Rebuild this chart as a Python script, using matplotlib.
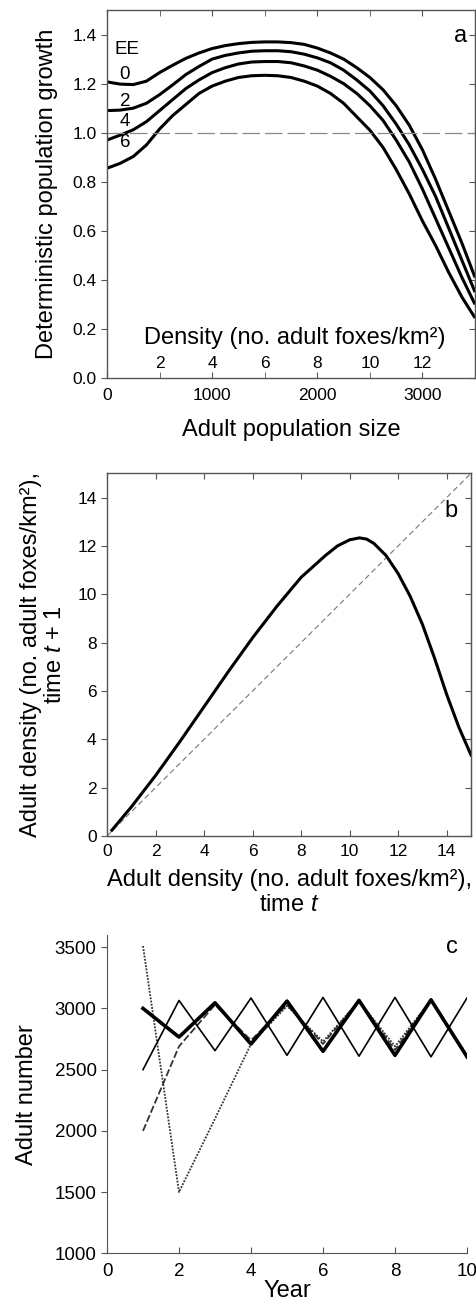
import numpy as np
import matplotlib
matplotlib.use('Agg')
import matplotlib.pyplot as plt

plt.rcParams['font.family'] = ['Liberation Sans', 'DejaVu Sans']
plt.rcParams['mathtext.fontset'] = 'custom'
plt.rcParams['mathtext.rm'] = 'Liberation Sans'
plt.rcParams['mathtext.it'] = 'Liberation Sans:italic'

# panel a: deterministic growth vs adult population size, per EE level
pop = [0, 125, 250, 375, 500, 625, 750, 875, 1000, 1125, 1250, 1375, 1500, 1625, 1750,
       1875, 2000, 2125, 2250, 2375, 2500, 2625, 2750, 2875, 3000, 3125, 3250, 3375, 3500]
ee0 = [1.207, 1.198, 1.196, 1.21, 1.245, 1.275, 1.303, 1.325, 1.343, 1.355, 1.363, 1.368, 1.37, 1.37, 1.367,
       1.36, 1.345, 1.325, 1.30, 1.265, 1.225, 1.175, 1.11, 1.03, 0.93, 0.81, 0.68, 0.55, 0.41]
ee2 = [1.09, 1.092, 1.10, 1.12, 1.155, 1.195, 1.237, 1.27, 1.30, 1.315, 1.325, 1.332, 1.334, 1.334, 1.33,
       1.32, 1.305, 1.285, 1.255, 1.215, 1.17, 1.11, 1.035, 0.95, 0.85, 0.74, 0.61, 0.48, 0.35]
ee4 = [0.97, 0.99, 1.012, 1.045, 1.09, 1.135, 1.18, 1.215, 1.245, 1.265, 1.28, 1.288, 1.29, 1.29, 1.285,
       1.272, 1.255, 1.23, 1.20, 1.16, 1.11, 1.05, 0.97, 0.88, 0.77, 0.65, 0.53, 0.41, 0.30]
ee6 = [0.855, 0.875, 0.903, 0.95, 1.015, 1.07, 1.115, 1.16, 1.19, 1.21, 1.225, 1.232, 1.234, 1.232, 1.225,
       1.21, 1.19, 1.16, 1.12, 1.065, 1.01, 0.94, 0.85, 0.75, 0.64, 0.54, 0.43, 0.33, 0.245]
ee_labels = ['0', '2', '4', '6']
ee_label_y = [1.237, 1.127, 1.046, 0.959]
density_ticks = [2, 4, 6, 8, 10, 12]
km2_per_pop = 250  # adults per density unit

# panel b: density at t+1 vs density at t
dens_t = [0.2, 1, 2, 3, 4, 5, 6, 7, 8, 9, 9.5, 10, 10.4, 10.7, 11, 11.5, 12, 12.5, 13, 13.5, 14, 14.5, 15]
dens_t1 = [0.24, 1.2, 2.5, 3.9, 5.35, 6.8, 8.2, 9.5, 10.7, 11.6, 12.0, 12.25, 12.33, 12.28, 12.1, 11.6,
           10.85, 9.9, 8.75, 7.35, 5.85, 4.5, 3.35]

# panel c: adult number over years from different starts
years = [1, 2, 3, 4, 5, 6, 7, 8, 9, 10]
run_thick = [3000, 2766, 3046, 2709, 3060, 2650, 3066, 2617, 3070, 2605]
run_thin = [2500, 3065, 2655, 3085, 2617, 3090, 2610, 3090, 2605, 3085]
run_dash = [2000, 2690, 3030, 2740, 3030, 2710, 3065, 2660, 3075, 2610]
run_dot = [3510, 1500, 2100, 2710, 3020, 2730, 3060, 2690, 3070, 2620]

spine_col = '#555555'
lab_fs = 17
tick_fs = 12.5

fig = plt.figure(figsize=(4.76, 13.0), dpi=100)


def right_ticks(axis, ticks):
    # inward ticks on the right spine, no labels
    sec = axis.secondary_yaxis('right')
    sec.set_yticks(ticks)
    sec.tick_params(direction='in', length=4, labelright=False, color=spine_col)
    sec.spines['right'].set_color(spine_col)


# ---------- panel a ----------
ax = fig.add_axes([0.2248, 0.7092, 0.998 - 0.2248, 0.9923 - 0.7092])
for ys in (ee0, ee2, ee4, ee6):
    ax.plot(pop, ys, color='black', lw=2.2, solid_capstyle='butt')
ax.axhline(1.0, color='#888888', lw=0.9, dashes=(14, 4))
ax.set_xlim(0, 3500)
ax.set_ylim(0, 1.5)
ax.set_xticks([0, 1000, 2000, 3000])
ax.set_xticks([500, 1500, 2500, 3500], minor=True)
ax.set_yticks(np.arange(0, 1.41, 0.2))
ax.set_yticklabels([f'{v:.1f}' for v in np.arange(0, 1.41, 0.2)])
ax.tick_params(axis='x', which='both', direction='in', length=4, top=True,
               labelsize=tick_fs, pad=7, color=spine_col)
ax.tick_params(axis='y', direction='out', length=4, labelsize=tick_fs, color=spine_col)
for s in ax.spines.values():
    s.set_color(spine_col)
    s.set_linewidth(1.0)
right_ticks(ax, np.arange(0, 1.41, 0.2))
for d in density_ticks:
    ax.text(d * km2_per_pop, 0.06, str(d), ha='center', va='center', fontsize=tick_fs)
ax.text(1790, 0.163, 'Density (no. adult foxes/km²)', ha='center', va='center', fontsize=lab_fs)
ax.text(190, 1.339, 'EE', ha='center', va='center', fontsize=tick_fs + 1)
for lab, yy in zip(ee_labels, ee_label_y):
    ax.text(171, yy, lab, ha='center', va='center', fontsize=tick_fs + 1)
ax.text(3360, 1.395, 'a', ha='center', va='center', fontsize=lab_fs)
ax.set_xlabel('Adult population size', fontsize=lab_fs, labelpad=12)
ax.set_ylabel('Deterministic population growth', fontsize=lab_fs, labelpad=10)

# ---------- panel b ----------
bx = fig.add_axes([0.2248, 0.3569, 0.9895 - 0.2248, 0.6359 - 0.3569])
bx.plot([0, 15], [0, 15], color='#777777', lw=0.8, dashes=(5, 3))
bx.plot(dens_t, dens_t1, color='black', lw=2.2)
bx.set_xlim(0, 15)
bx.set_ylim(0, 15)
bx.set_xticks(range(0, 15, 2))
bx.set_yticks(range(0, 15, 2))
bx.tick_params(axis='x', direction='in', length=4, top=True, labelsize=tick_fs, pad=6,
               color=spine_col)
bx.tick_params(axis='y', direction='out', length=4, labelsize=tick_fs, color=spine_col)
for s in bx.spines.values():
    s.set_color(spine_col)
    s.set_linewidth(1.0)
right_ticks(bx, range(0, 15, 2))
bx.text(14.18, 13.44, 'b', ha='center', va='center', fontsize=lab_fs)
bx.set_xlabel('Adult density (no. adult foxes/km²),\ntime $t$', fontsize=lab_fs,
              linespacing=1.15, labelpad=7)
bx.set_ylabel('Adult density (no. adult foxes/km²),\ntime $t$ + 1', fontsize=lab_fs,
              linespacing=1.15, labelpad=8)

# ---------- panel c ----------
cx = fig.add_axes([0.2248, 0.0359, 0.9811 - 0.2248, 0.2808 - 0.0359])
cx.plot(years, run_dot, color='#333333', lw=1.3, linestyle=(0, (1, 0.8)))
cx.plot(years, run_dash, color='#333333', lw=1.3, dashes=(4, 1.5))
cx.plot(years, run_thin, color='black', lw=1.2)
cx.plot(years, run_thick, color='black', lw=2.6)
cx.set_xlim(0, 10)
cx.set_ylim(1000, 3600)
cx.set_xticks(range(0, 11, 2))
cx.set_yticks(range(1000, 3501, 500))
cx.tick_params(axis='x', direction='in', length=4, labelsize=13.5, pad=7, color=spine_col)
cx.tick_params(axis='y', direction='out', length=4, labelsize=13.5, color=spine_col)
cx.spines['top'].set_visible(False)
cx.spines['right'].set_visible(False)
for s in ('left', 'bottom'):
    cx.spines[s].set_color(spine_col)
cx.text(9.58, 3500, 'c', ha='center', va='center', fontsize=lab_fs)
cx.set_xlabel('Year', fontsize=lab_fs, labelpad=0)
cx.set_ylabel('Adult number', fontsize=lab_fs, labelpad=12)

fig.savefig('out.png', dpi=100)
